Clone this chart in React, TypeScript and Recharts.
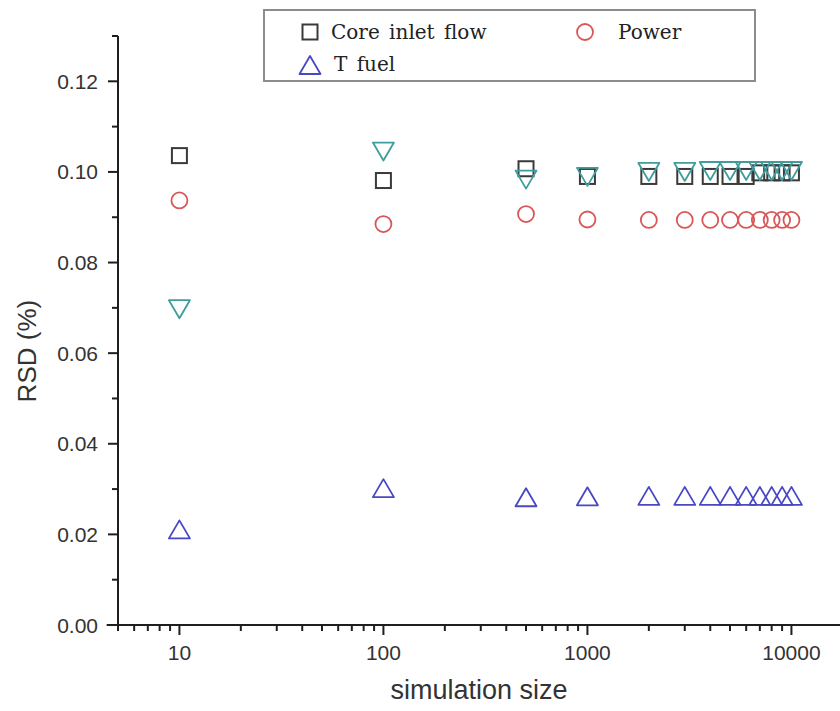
import React from 'react';
import { ScatterChart, Scatter, XAxis, YAxis, Legend, ReferenceLine } from 'recharts';

// simulation sizes (x) shared by every series
const sizes = [10, 100, 500, 1000, 2000, 3000, 4000, 5000, 6000, 7000, 8000, 9000, 10000];

// RSD (%) per series
const coreInletFlow = [0.1036, 0.0981, 0.1007, 0.099, 0.099, 0.099, 0.099, 0.099, 0.099, 0.0998, 0.0998, 0.0998, 0.0998];
const power = [0.0937, 0.0885, 0.0907, 0.0895, 0.0894, 0.0894, 0.0894, 0.0894, 0.0894, 0.0894, 0.0894, 0.0894, 0.0894];
const tFuel = [0.0211, 0.0302, 0.0282, 0.0284, 0.0285, 0.0285, 0.0285, 0.0285, 0.0285, 0.0285, 0.0285, 0.0285, 0.0285];
const tOther = [0.0697, 0.1045, 0.0983, 0.0989, 0.1, 0.1, 0.1002, 0.1002, 0.1002, 0.1002, 0.1002, 0.1002, 0.1002];

const xMajor = [10, 100, 1000, 10000];
const xTicks = [
  5, 6, 7, 8, 9, 10, 20, 30, 40, 50, 60, 70, 80, 90, 100, 200, 300, 400, 500, 600, 700, 800, 900,
  1000, 2000, 3000, 4000, 5000, 6000, 7000, 8000, 9000, 10000,
];
const yMajor = [0, 0.02, 0.04, 0.06, 0.08, 0.1, 0.12];
const yTicks = [0, 0.01, 0.02, 0.03, 0.04, 0.05, 0.06, 0.07, 0.08, 0.09, 0.1, 0.11, 0.12, 0.13];

const toPoints = (ys: number[]) => sizes.map((x, i) => ({ x, y: ys[i] }));

const AXIS = '#1e1e1e';
const SANS = '"Liberation Sans", Arial, sans-serif';
const SERIF = '"DejaVu Serif", serif';
const C_SQUARE = '#3a3a3a';
const C_CIRCLE = '#d95757';
const C_UP = '#4848c4';
const C_DOWN = '#3f9d9d';

// hollow markers centred on their bounding box
const Square = ({ cx, cy }: any) => (
  <rect x={cx - 7.5} y={cy - 7.5} width={15} height={15} fill="none" stroke={C_SQUARE} strokeWidth={2} />
);
const Circle = ({ cx, cy }: any) => (
  <circle cx={cx} cy={cy} r={8} fill="none" stroke={C_CIRCLE} strokeWidth={1.8} />
);
const TriUp = ({ cx, cy }: any) => (
  <path d={`M${cx},${cy - 9} L${cx + 10.5},${cy + 9} L${cx - 10.5},${cy + 9} Z`} fill="none" stroke={C_UP} strokeWidth={1.8} strokeLinejoin="round" />
);
const TriDown = ({ cx, cy }: any) => (
  <path d={`M${cx - 10.5},${cy - 9} L${cx + 10.5},${cy - 9} L${cx},${cy + 9} Z`} fill="none" stroke={C_DOWN} strokeWidth={1.8} strokeLinejoin="round" />
);

const XTick = ({ x, y, payload }: any) => {
  const major = xMajor.includes(payload.value);
  return (
    <g>
      <line x1={x} x2={x} y1={y} y2={y + (major ? 10 : 6)} stroke={AXIS} strokeWidth={2} />
      {major && (
        <text x={x} y={y + 35} textAnchor="middle" fontSize={21} fontFamily={SANS} fill="#333">
          {payload.value}
        </text>
      )}
    </g>
  );
};

const YTick = ({ x, y, payload }: any) => {
  const major = yMajor.includes(payload.value);
  return (
    <g>
      <line x1={x - (major ? 10 : 6)} x2={x} y1={y} y2={y} stroke={AXIS} strokeWidth={2} />
      {major && (
        <text x={x - 20} y={y + 7.5} textAnchor="end" fontSize={21} fontFamily={SANS} fill="#333">
          {payload.value.toFixed(2)}
        </text>
      )}
    </g>
  );
};

const YTitle = ({ viewBox }: any) => {
  const cx = viewBox.x + 27;
  const cy = viewBox.y + viewBox.height * 0.535;
  return (
    <text x={cx} y={cy} transform={`rotate(-90, ${cx}, ${cy})`} textAnchor="middle" dominantBaseline="central" fontSize={26} fontFamily={SANS} fill="#333">
      RSD (%)
    </text>
  );
};

const LegendBox = () => (
  <div style={{ width: 493, height: 73, border: '2px solid #8c8c8c', boxSizing: 'border-box', background: '#fff' }}>
    <svg width={489} height={69}>
      <g transform="translate(-2,-2)">
        <Square cx={47} cy={23} />
        <text x={68} y={30} fontSize={20} fontFamily={SERIF} fill="#222" wordSpacing={3}>Core inlet flow</text>
        <Circle cx={322} cy={23} />
        <text x={355} y={30} fontSize={20} fontFamily={SERIF} fill="#222">Power</text>
        <TriUp cx={47} cy={56} />
        <text x={71} y={62} fontSize={20} fontFamily={SERIF} fill="#222" wordSpacing={3}>T fuel</text>
      </g>
    </svg>
  </div>
);

export default function App() {
  return (
    <div style={{ position: 'fixed', left: 0, top: 0, width: 840, height: 711, background: '#fff' }}>
      <ScatterChart width={840} height={711} margin={{ top: 36, right: 0, bottom: 0, left: 0 }}>
        <XAxis
          dataKey="x"
          type="number"
          scale="log"
          domain={[5, 17300]}
          ticks={xTicks}
          interval={0}
          height={86}
          tickSize={0}
          tickMargin={0}
          tick={<XTick />}
          axisLine={{ stroke: AXIS, strokeWidth: 2 }}
          tickLine={false}
          label={{ value: 'simulation size', position: 'insideBottom', offset: 12, fontSize: 27, fontFamily: SANS, fill: '#333' }}
        />
        <YAxis
          dataKey="y"
          type="number"
          domain={[0, 0.13]}
          ticks={yTicks}
          interval={0}
          width={118}
          tickSize={0}
          tickMargin={0}
          tick={<YTick />}
          axisLine={{ stroke: AXIS, strokeWidth: 2 }}
          tickLine={false}
          label={<YTitle />}
        />
        {/* short axis overhangs past the origin */}
        <ReferenceLine segment={[{ x: 4.4, y: 0 }, { x: 5, y: 0 }]} ifOverflow="visible" stroke={AXIS} strokeWidth={2} />
        <ReferenceLine segment={[{ x: 5, y: 0 }, { x: 5, y: -0.0012 }]} ifOverflow="visible" stroke={AXIS} strokeWidth={2} />
        <Legend
          layout="horizontal"
          align="center"
          verticalAlign="middle"
          content={<LegendBox />}
          wrapperStyle={{ position: 'absolute', left: 263, top: 9, width: 493, height: 73 }}
        />
        <Scatter name="Core inlet flow" data={toPoints(coreInletFlow)} shape={<Square />} isAnimationActive={false} />
        <Scatter name="Power" data={toPoints(power)} shape={<Circle />} isAnimationActive={false} />
        <Scatter name="T fuel" data={toPoints(tFuel)} shape={<TriUp />} isAnimationActive={false} />
        <Scatter name="T other" data={toPoints(tOther)} shape={<TriDown />} isAnimationActive={false} />
      </ScatterChart>
    </div>
  );
}
